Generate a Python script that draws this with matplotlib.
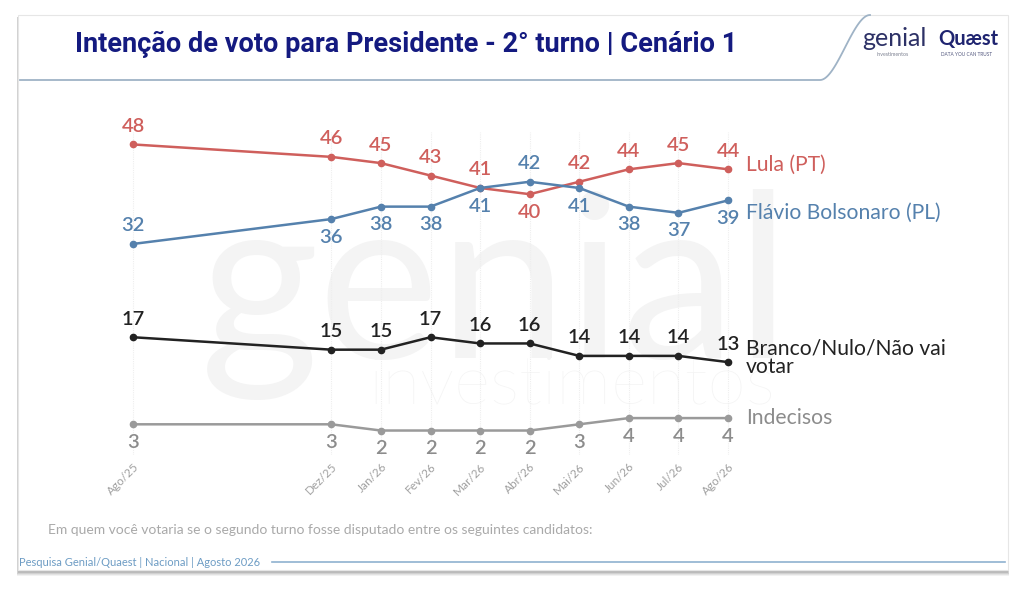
import matplotlib.pyplot as plt
from matplotlib.patches import FancyBboxPatch
from matplotlib.lines import Line2D
import numpy as np

# dados
months = [0, 4, 5, 6, 7, 8, 9, 10, 11, 12]
month_labels = ["Ago/25", "Dez/25", "Jan/26", "Fev/26", "Mar/26", "Abr/26",
                "Mai/26", "Jun/26", "Jul/26", "Ago/26"]
lula = [48, 46, 45, 43, 41, 40, 42, 44, 45, 44]
flavio = [32, 36, 38, 38, 41, 42, 41, 38, 37, 39]
branco = [17, 15, 15, 17, 16, 16, 14, 14, 14, 13]
indecisos = [3, 3, 2, 2, 2, 2, 3, 4, 4, 4]

# posicao do rotulo: +1 acima, -1 abaixo
lula_pos = [1, 1, 1, 1, 1, -1, 1, 1, 1, 1]
flavio_pos = [1, -1, -1, -1, -1, 1, -1, -1, -1, -1]
branco_pos = [1] * 10
indecisos_pos = [-1] * 10

RED = "#cf5f5c"
BLUE = "#5581ad"
BLACK = "#222222"
GRAY = "#9a9a9a"
NAVY = "#141a80"

plt.rcParams["font.family"] = ["Lato", "DejaVu Sans"]

W, H = 1024, 590
fig = plt.figure(figsize=(W / 100, H / 100), dpi=100)
fig.patch.set_facecolor("white")

# cartao com sombra
for i, a in enumerate([0.05, 0.06, 0.08, 0.10]):
    off = 4 - i
    fig.add_artist(FancyBboxPatch((18 / W - off / W * 0.3, (590 - 572 - off) / H), 990 / W + off / W * 0.6,
                                  (555 + off) / H, boxstyle="square,pad=0", transform=fig.transFigure,
                                  facecolor="black", edgecolor="none", alpha=a, zorder=0))
fig.add_artist(FancyBboxPatch((18 / W, (590 - 570) / H), 990 / W, 555 / H, boxstyle="square,pad=0",
                              transform=fig.transFigure, facecolor="white", edgecolor="#e6e6e6",
                              linewidth=0.8, zorder=0.5))

# linha do cabecalho com curva
t = np.linspace(0, 1, 60)
cx = 820 + 50 * t
cy = 80 - 65 * (3 * t ** 2 - 2 * t ** 3)
hx = np.concatenate([[20], cx])
hy = np.concatenate([[80], cy])
fig.add_artist(Line2D(hx / W, 1 - hy / H, transform=fig.transFigure, color="#9fb3c6", lw=1.3, zorder=1))

fig.text(75 / W, 1 - 44 / H, "Intenção de voto para Presidente - 2° turno | Cenário 1",
         family=["Roboto", "DejaVu Sans"], fontweight="bold", fontsize=19.5, color=NAVY,
         va="center", ha="left", zorder=2)

# logos
fig.text(862 / W, 1 - 39 / H, "genial", fontsize=18, color="#2d3166", va="center", ha="left", zorder=2)
fig.text(877 / W, 1 - 54 / H, "investimentos", fontsize=3.8, color="#7c8090", va="center", ha="left", zorder=2)
fig.text(938 / W, 1 - 39 / H, "Quæst", fontsize=14.5, fontweight="bold", color="#1f2470",
         va="center", ha="left", zorder=2)
fig.text(941 / W, 1 - 54 / H, "DATA YOU CAN TRUST", fontsize=3.4, color="#555a80",
         va="center", ha="left", zorder=2)

# marca d'agua
fig.text(495 / W, 1 - 295 / H, "genial", fontsize=165, color="#f4f4f4", va="center", ha="center", zorder=1)
fig.text(572 / W, 1 - 385 / H, "investimentos", fontsize=50, color="#f4f4f4", fontweight="light",
         va="center", ha="center", zorder=1)

# eixo
px_per = 49.6
x0 = 133 - 0.3 * px_per
x1 = 728 + 0.3 * px_per
ax = fig.add_axes([x0 / W, (590 - 455.4) / H, (x1 - x0) / W, (455.4 - 132) / H])
ax.set_xlim(-0.3, 12.3)
ax.set_ylim(-2, 50)
ax.patch.set_alpha(0)
ax.set_zorder(3)
for s in ax.spines.values():
    s.set_visible(False)
ax.set_yticks([])
ax.set_xticks(months)
ax.set_xticklabels(month_labels, rotation=45, ha="right", rotation_mode="anchor",
                   fontsize=8.5, color="#a0a0a0")
ax.tick_params(axis="x", length=0, pad=4)
for m in months:
    ax.axvline(m, ymin=0.0, ymax=1.0, color="#eeeeee", lw=0.8, ls=(0, (1, 1)), zorder=0)

series = [
    (lula, lula_pos, RED, RED, "Lula (PT)", 3),
    (flavio, flavio_pos, BLUE, BLUE, "Flávio Bolsonaro (PL)", -9),
    (branco, branco_pos, BLACK, BLACK, "Branco/Nulo/Não vai\nvotar", 3),
    (indecisos, indecisos_pos, GRAY, "#8c8c8c", "Indecisos", 0),
]
for vals, pos, col, tcol, name, dy in series:
    ax.plot(months, vals, color=col, lw=1.8, marker="o", markersize=4.5, zorder=4, clip_on=False)
    for m, v, p in zip(months, vals, pos):
        ax.annotate(str(v), (m, v), xytext=(0, 13 * p), textcoords="offset points",
                    ha="center", va="center", fontsize=14.5, fontweight="semibold", color=tcol, zorder=5)
    ax.annotate(name, (months[-1], vals[-1]), xytext=(13, dy), textcoords="offset points",
                ha="left", va="center", fontsize=15.2, color=col if col != GRAY else "#8c8c8c",
                linespacing=0.9, zorder=5)

# rodape
fig.text(48 / W, 1 - 530 / H, "Em quem você votaria se o segundo turno fosse disputado entre os seguintes candidatos:",
         fontsize=10, color="#a9a9a9", va="center", ha="left", zorder=2)
fig.text(19 / W, 1 - 562 / H, "Pesquisa Genial/Quaest | Nacional | Agosto 2026",
         fontsize=8, color="#6d9cc4", va="center", ha="left", zorder=2)
fig.add_artist(Line2D([272 / W, 1005 / W], [1 - 562 / H, 1 - 562 / H], transform=fig.transFigure,
                      color="#8fb1cf", lw=1.2, zorder=2))

fig.savefig("out.png", dpi=100)
